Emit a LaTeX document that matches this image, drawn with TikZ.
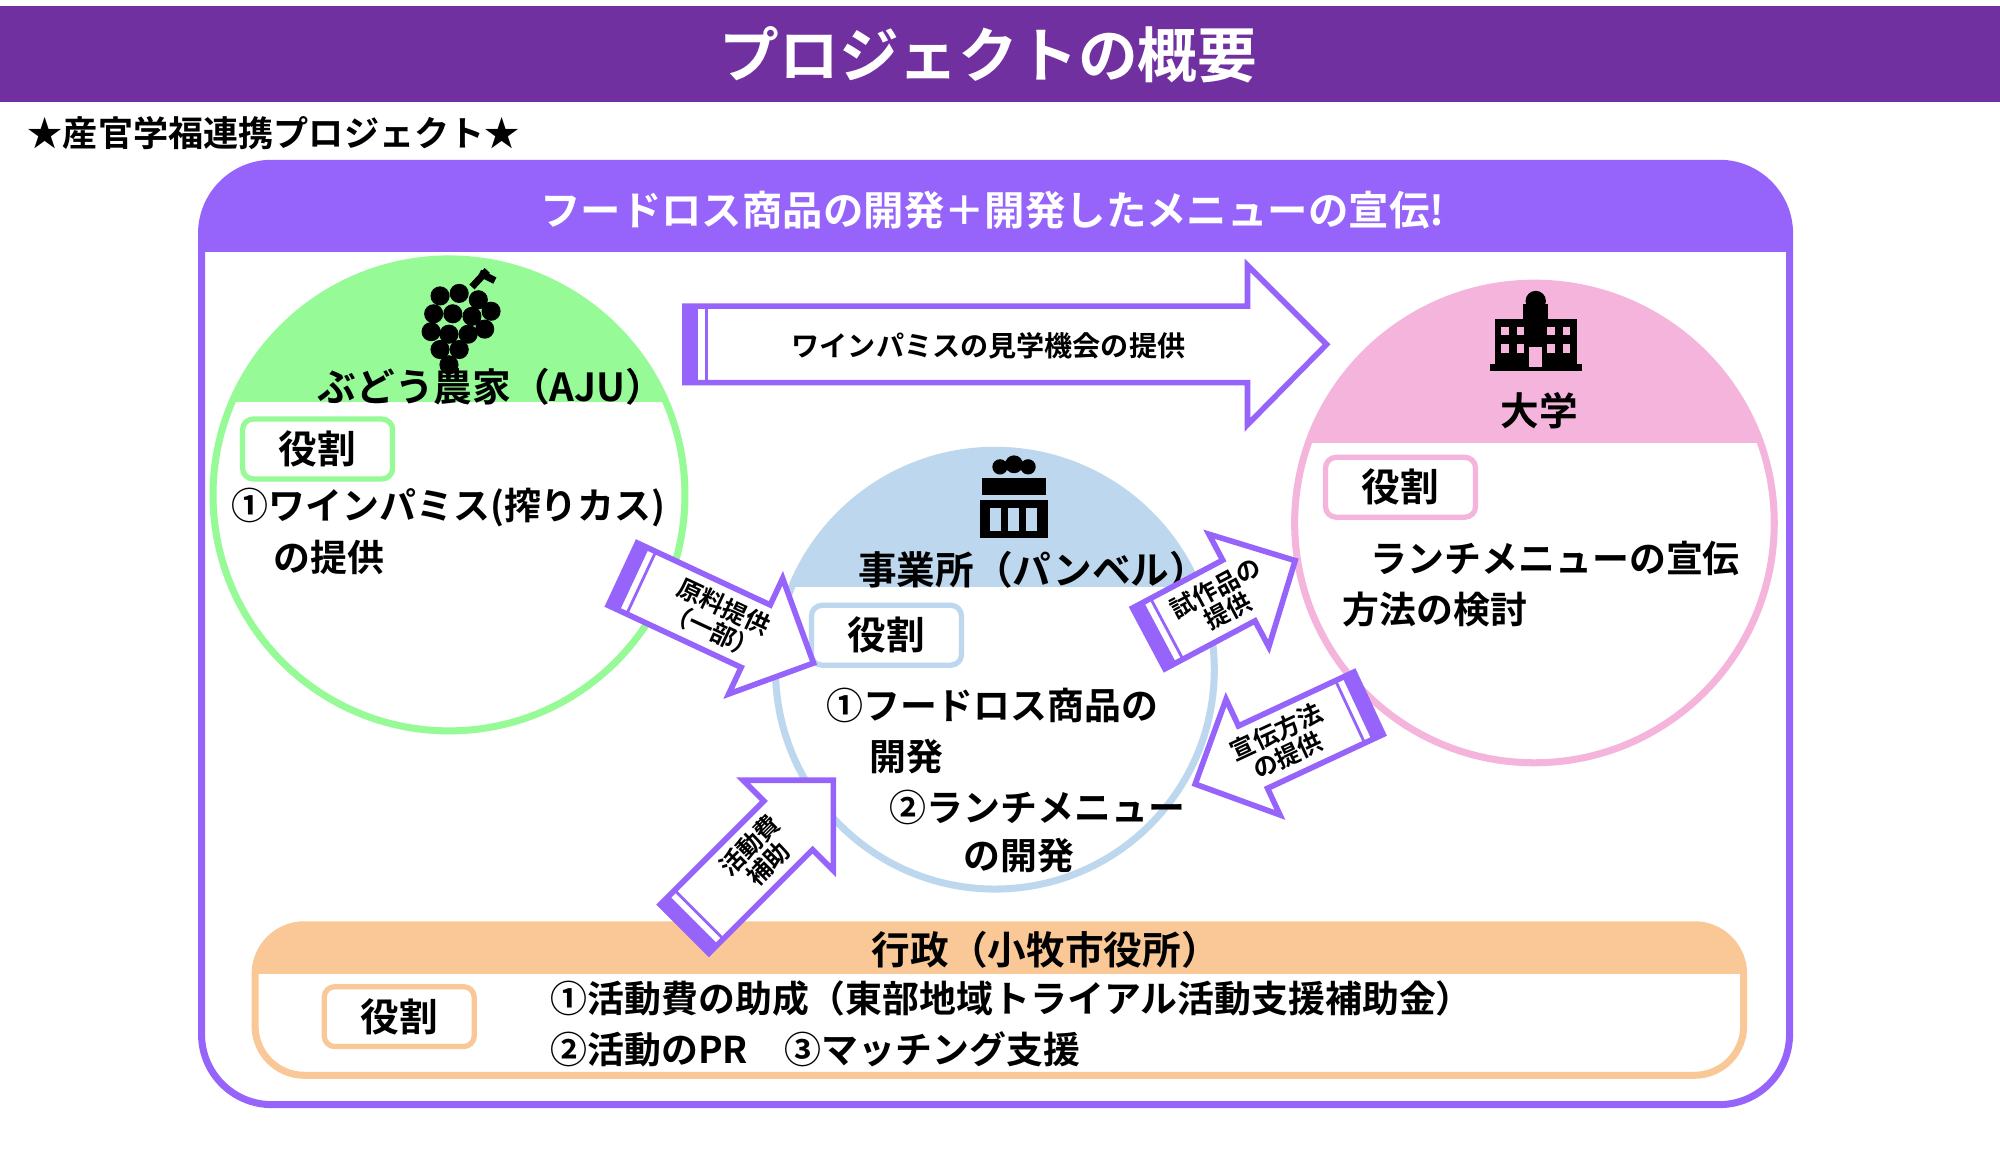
\documentclass[tikz,border=0pt]{standalone}
\usepackage{fontspec}
\setmainfont{Noto Sans CJK JP}[BoldFont={Noto Sans CJK JP Bold}]
\usetikzlibrary{positioning,calc}
\definecolor{titlebar}{RGB}{112,48,160}
\definecolor{frameline}{RGB}{150,100,250}
\definecolor{farmbg}{RGB}{150,250,150}
\definecolor{shopbg}{RGB}{189,215,238}
\definecolor{unibg}{RGB}{244,180,220}
\definecolor{govbg}{RGB}{250,200,150}

% block arrow: centre, angle, length, text angle, text
\newcommand\flowarrow[5]{%
  \begin{scope}[shift={#1},rotate=#2]
    \draw[arrowbody] (-#3/2,-27) -- (#3/2-50,-27) -- (#3/2-50,-50) -- (#3/2,0)
      -- (#3/2-50,50) -- (#3/2-50,27) -- (-#3/2,27) -- cycle;
    \fill[frameline] (-#3/2,-27) rectangle (-#3/2+10,27);
    \draw[frameline,line width=0.8pt] (-#3/2+16,-27) -- (-#3/2+16,27);
  \end{scope}
  \node[arrowtext,rotate=#4] at #1 {#5};}

\begin{document}
\begin{tikzpicture}[
  x=0.012755cm, y=-0.012755cm,
  font=\bfseries,
  arrowbody/.style={draw=frameline, fill=white, line width=1.6pt, line join=miter},
  arrowtext/.style={font=\bfseries\fontsize{7}{7.5}\selectfont, align=center},
  rolebox/.style={draw, line width=1.5pt, rounded corners=3pt, fill=white,
    minimum width=1.5cm, minimum height=0.56cm, font=\bfseries\fontsize{11}{12}\selectfont},
  bodytext/.style={font=\bfseries\fontsize{10.5}{12}\selectfont, anchor=west},
  circlelabel/.style={font=\bfseries\fontsize{11}{12}\selectfont}
]
\useasboundingbox (0,0) rectangle (1568,904);
\fill[white] (0,0) rectangle (1568,904);

% title
\fill[titlebar] (0,5) rectangle (1568,80);
\node[text=white, font=\bfseries\fontsize{17}{18}\selectfont] (title) at (775,43) {プロジェクトの概要};
\node[anchor=west, font=\bfseries\fontsize{10}{11}\selectfont] (subtitle) at (12,104) {★産官学福連携プロジェクト★};

% frame
\begin{scope}
  \clip (158,128) rectangle (1403,197);
  \fill[frameline, rounded corners=20pt] (158,128) rectangle (1403,866);
\end{scope}
\draw[frameline, line width=2pt, rounded corners=20pt] (158,128) rectangle (1403,866);
\node[text=white, font=\bfseries\fontsize{11.5}{12}\selectfont] (header) at (778,165) {フードロス商品の開発＋開発したメニューの宣伝!};

% farm
\begin{scope}
  \clip (352,388) circle (185);
  \fill[farmbg] (160,200) rectangle (540,315);
\end{scope}
\draw[farmbg, line width=2pt] (352,388) circle (185);
\foreach \gx/\gy in {345/232,360/230,375/235,340/246,355/246,370/248,385/244,338/260,352/262,367/262,380/258,345/274,360/274,352/286}
  \fill[black] (\gx,\gy) circle (7.5);
\draw[black, line width=2pt] (370,225) -- (382,212) (376,214) -- (388,220);
\node[circlelabel] (farm) at (385,303) {ぶどう農家（AJU）};
\node[rolebox, draw=farmbg] (farmrole) at (249,352) {役割};
\node[bodytext] (farmtext1) at (172,398) {①ワインパミス(搾りカス)};
\node[bodytext] (farmtext2) at (205,437) {の提供};

% shop
\begin{scope}
  \clip (780,525) circle (172);
  \fill[shopbg] (600,340) rectangle (960,460);
\end{scope}
\draw[shopbg, line width=2pt] (780,525) circle (172);
\fill[black] (770,375) rectangle (820,388);
\fill[black] (768,392) rectangle (822,422);
\fill[black] (784,366) circle (6) (795,364) circle (7) (806,366) circle (6);
\foreach \wx in {776,790,804} \fill[shopbg] (\wx,398) rectangle ++(9,18);
\node[circlelabel] (shop) at (810,447) {事業所（パンベル）};
\node[rolebox, draw=shopbg] (shoprole) at (695,498) {役割};
\node[bodytext] (shoptext1) at (638,553) {①フードロス商品の};
\node[bodytext] (shoptext2) at (672,593) {開発};
\node[bodytext] (shoptext3) at (688,633) {②ランチメニュー};
\node[bodytext] (shoptext4) at (746,671) {の開発};

% university
\begin{scope}
  \clip (1203,410) circle (188);
  \fill[unibg] (1000,200) rectangle (1400,347);
\end{scope}
\draw[unibg, line width=2pt] (1203,410) circle (188);
\fill[black] (1172,250) rectangle (1236,288);
\fill[black] (1194,238) rectangle (1214,250);
\fill[black] (1204,236) circle (8);
\draw[black, line width=2pt] (1168,288) -- (1240,288);
\foreach \wx in {1177,1189,1213,1225} \foreach \wy in {256,270} \fill[unibg] (\wx,\wy) rectangle ++(6,7);
\fill[unibg] (1199,272) rectangle (1209,288);
\node[circlelabel] (uni) at (1207,322) {大学};
\node[rolebox, draw=unibg] (unirole) at (1098,382) {役割};
\node[bodytext] (unitext1) at (1065,438) {ランチメニューの宣伝};
\node[bodytext] (unitext2) at (1043,478) {方法の検討};

% government
\fill[white, rounded corners=14pt] (200,725) rectangle (1367,843);
\begin{scope}
  \clip (200,725) rectangle (1367,763);
  \fill[govbg, rounded corners=14pt] (200,725) rectangle (1367,843);
\end{scope}
\draw[govbg, line width=2pt, rounded corners=14pt] (200,725) rectangle (1367,843);
\node[circlelabel] (gov) at (820,745) {行政（小牧市役所）};
\node[rolebox, draw=govbg] (govrole) at (313,797) {役割};
\node[bodytext] (govtext1) at (422,783) {①活動費の助成（東部地域トライアル活動支援補助金）};
\node[bodytext] (govtext2) at (422,823) {②活動のPR　③マッチング支援};

% top arrow
\begin{scope}
  \draw[arrowbody] (537,240) -- (978,240) -- (978,208) -- (1040,270) -- (978,333) -- (978,300) -- (537,300) -- cycle;
  \fill[frameline] (537,240) rectangle (547,300);
  \draw[frameline, line width=0.8pt] (554,240) -- (554,300);
\end{scope}
\node[arrowtext, font=\bfseries\fontsize{8}{9}\selectfont] (visit) at (775,271) {ワインパミスの見学機会の提供};

% small arrows
\flowarrow{(563,485)}{-25}{165}{-25}{原料提供\\（一部）}
\flowarrow{(958,470)}{28}{130}{28}{試作品の\\提供}
\flowarrow{(1005,583)}{205}{150}{25}{宣伝方法\\の提供}
\flowarrow{(595,670)}{45}{165}{45}{活動費\\補助}
\end{tikzpicture}
\end{document}
